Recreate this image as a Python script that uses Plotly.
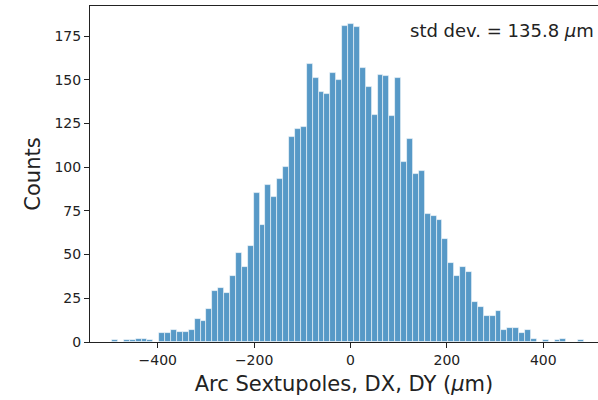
import plotly.graph_objects as go

# Histogram
bin_start = -494.7      # left edge of first bin (um)
bin_width = 12.24       # bin width (um)
counts = [1, 0, 1, 1, 2, 2, 1, 0,
          5, 5, 7, 6, 6, 7, 13, 12, 19, 29,
          31, 28, 38, 51, 43, 55, 85, 67, 90, 83,
          93, 100, 117, 122, 123, 159, 151, 143, 142, 154,
          150, 181, 182, 180, 157, 146, 130, 153, 152, 129,
          151, 103, 116, 96, 98, 73, 72, 70, 59, 45,
          38, 43, 40, 23, 20, 15, 15, 18, 7, 8,
          8, 5, 7, 2, 0, 1, 0, 1, 2, 0,
          0, 1]
x_ticks = [-400, -200, 0, 200, 400]
y_ticks = [0, 25, 50, 75, 100, 125, 150, 175]
std_text = "std dev. = 135.8 <i>μ</i>m"

centers = [bin_start + bin_width * (i + 0.5) for i in range(len(counts))]

FONT = "DejaVu Sans"
INK = "#222222"

fig = go.Figure()
fig.add_trace(go.Bar(
    x=centers, y=counts, width=bin_width,
    marker=dict(color="rgba(31,119,180,0.75)",
                line=dict(color="rgba(255,255,255,0.7)", width=0.8)),
    hoverinfo="x+y", showlegend=False,
))

fig.update_layout(
    width=598, height=400,
    margin=dict(l=90, r=0, t=6, b=58, autoexpand=False),
    paper_bgcolor="white", plot_bgcolor="white",
    font=dict(family=FONT, color=INK, size=14),
    bargap=0,
    xaxis=dict(
        range=[-540.5, 513.5], tickvals=x_ticks,
        ticktext=[("\u2212" + str(-v)) if v < 0 else str(v) for v in x_ticks],
        showgrid=False, zeroline=False,
        showline=True, mirror=True, linecolor=INK, linewidth=1.1,
        ticks="outside", ticklen=5, tickwidth=1.1, tickcolor=INK,
        tickfont=dict(size=14, family=FONT, color=INK),
        title=dict(text="Arc Sextupoles, DX, DY (<i>μ</i>m)",
                   font=dict(size=21, family=FONT, color=INK), standoff=9),
        automargin=False,
    ),
    yaxis=dict(
        range=[0, 192.2], tickvals=y_ticks,
        showgrid=False, zeroline=False,
        showline=True, mirror=False, linecolor=INK, linewidth=1.1,
        ticks="outside", ticklen=5, tickwidth=1.1, tickcolor=INK,
        tickfont=dict(size=14, family=FONT, color=INK),
        title=dict(text="Counts", font=dict(size=21, family=FONT, color=INK),
                   standoff=8),
        automargin=False,
    ),
    annotations=[dict(
        text=std_text, xref="paper", yref="paper",
        x=0.626, y=0.926, xanchor="left", yanchor="middle",
        showarrow=False, font=dict(size=18, family=FONT, color=INK),
    )],
)

fig.write_html("out.html")
